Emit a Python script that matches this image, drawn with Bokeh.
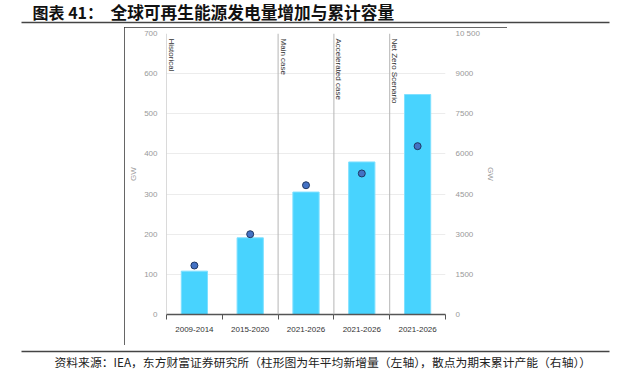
from math import pi
from bokeh.plotting import figure
from bokeh.layouts import column, row
from bokeh.models import Range1d, LinearAxis, FixedTicker, Span, Spacer
from bokeh.core.properties import value
from bokeh.embed import file_html
from bokeh.resources import INLINE

# ---------------- data ----------------
periods = ["2009-2014", "2015-2020", "2021-2026", "2021-2026", "2021-2026"]
annual_additions_gw = [108, 191, 305, 380, 548]          # bars, left axis
cumulative_capacity_gw = [1830, 3000, 4830, 5270, 6290]  # dots, right axis
scenarios = ["Historical", "Main case", "Accelerated case", "Net Zero Scenario"]
scenario_first_period = [0, 2, 3, 4]
left_ticks = [0, 100, 200, 300, 400, 500, 600, 700]
right_ticks = [0, 1500, 3000, 4500, 6000, 7500, 9000, 10500]
right_tick_labels = ["0", "1500", "3000", "4500", "6000", "7500", "9000", "10 500"]

title_prefix = "图表 41："
title_main = "全球可再生能源发电量增加与累计容量"
source_text = "资料来源：IEA，东方财富证券研究所（柱形图为年平均新增量（左轴），散点为期末累计产能（右轴））"

FONT = "Liberation Sans"
CJK = "Noto Sans CJK SC"
W, H = 617, 369


def blank(width, height):
    f = figure(width=width, height=height, output_backend="svg", toolbar_location=None,
               x_range=Range1d(0, width), y_range=Range1d(height, 0),
               x_axis_location=None, y_axis_location=None, min_border=0)
    f.grid.visible = False
    f.outline_line_color = None
    return f


# ---------------- header ----------------
T = blank(W, 27)
T.text(x=[32], y=[11], text=[title_prefix], text_font=value(CJK), text_font_style="bold",
       text_font_size="16px", text_color="#111111", text_baseline="middle", text_align="left")
T.text(x=[110], y=[11], text=[title_main], text_font=value(CJK), text_font_style="bold",
       text_font_size="16.7px", text_color="#111111", text_baseline="middle", text_align="left")
T.segment(x0=[21], y0=[22], x1=[609], y1=[22], line_color="#444444", line_width=1.5)

# ---------------- footer ----------------
B = blank(W, 24)
B.segment(x0=[21], y0=[6], x1=[609], y1=[6], line_color="#444444", line_width=1.5)
B.text(x=[54], y=[16], text=[source_text], text_font=value(CJK), text_font_size="11.8px",
       text_color="#222222", text_baseline="middle", text_align="left")

# ---------------- main chart ----------------
n = len(periods)
xc = [i + 0.5 for i in range(n)]

p = figure(width=383, height=318, output_backend="svg", toolbar_location=None,
           x_range=Range1d(0, n), y_range=Range1d(0, left_ticks[-1]),
           min_border_left=42, min_border_right=62, min_border_top=6, min_border_bottom=31)
p.outline_line_color = None
p.styles = {"outline": "1px solid #333333", "outline-offset": "-1px"}
p.extra_y_ranges = {"right": Range1d(0, right_ticks[-1])}

p.xgrid.grid_line_color = None
p.ygrid.grid_line_color = "#ececec"
p.ygrid.ticker = FixedTicker(ticks=left_ticks)

xa = p.xaxis[0]
xa.ticker = FixedTicker(ticks=xc, minor_ticks=list(range(n + 1)))
xa.major_label_overrides = {x: lab for x, lab in zip(xc, periods)}
xa.major_tick_line_color = None
xa.major_tick_out = 0
xa.major_tick_in = 0
xa.minor_tick_line_color = "#555555"
xa.minor_tick_out = 5
xa.minor_tick_in = 0
xa.axis_line_color = "#555555"
xa.axis_line_width = 1.5
xa.major_label_text_font = FONT
xa.major_label_text_font_size = "8px"
xa.major_label_text_color = "#333333"
xa.major_label_standoff = 7

ya = p.yaxis[0]
ya.ticker = FixedTicker(ticks=left_ticks)
ya.axis_line_color = None
ya.major_tick_line_color = None
ya.major_tick_out = 0
ya.major_tick_in = 0
ya.minor_tick_line_color = None
ya.major_label_text_font = FONT
ya.major_label_text_font_size = "8px"
ya.major_label_text_color = "#999999"
ya.major_label_standoff = 9
ya.axis_label = "GW"
ya.axis_label_text_font = FONT
ya.axis_label_text_font_style = "normal"
ya.axis_label_text_font_size = "8px"
ya.axis_label_text_color = "#999999"
ya.axis_label_standoff = 3

ra = LinearAxis(y_range_name="right", ticker=FixedTicker(ticks=right_ticks))
ra.major_label_overrides = {t: l for t, l in zip(right_ticks, right_tick_labels)}
ra.axis_line_color = None
ra.major_tick_line_color = None
ra.major_tick_out = 0
ra.major_tick_in = 0
ra.minor_tick_line_color = None
ra.major_label_text_font = FONT
ra.major_label_text_font_size = "8px"
ra.major_label_text_color = "#999999"
ra.major_label_standoff = 10
ra.axis_label = "GW"
ra.axis_label_text_font = FONT
ra.axis_label_text_font_style = "normal"
ra.axis_label_text_font_size = "8px"
ra.axis_label_text_color = "#999999"
ra.axis_label_standoff = 3
p.add_layout(ra, "right")

for s in scenario_first_period:
    p.add_layout(Span(location=s, dimension="height", line_color="#b5b5b5", line_width=1))
p.text(x=scenario_first_period, y=[left_ticks[-1]] * len(scenarios), text=scenarios,
       angle=-pi / 2, x_offset=5, y_offset=5, text_align="left", text_baseline="middle",
       text_font=value(FONT), text_font_size="8px", text_color="#333333")

p.vbar(x=xc, top=annual_additions_gw, width=0.47, bottom=0,
       fill_color="#48D3FE", line_color="#7fe0ff", line_width=1)
p.scatter(x=xc, y=cumulative_capacity_gw, y_range_name="right", size=7,
          fill_color="#4472C4", line_color="#1F3864", line_width=1)

middle = row(Spacer(width=124, height=318), p, Spacer(width=110, height=318))
page = column(T, middle, B)

open("out.html", "w").write(file_html(page, INLINE))
